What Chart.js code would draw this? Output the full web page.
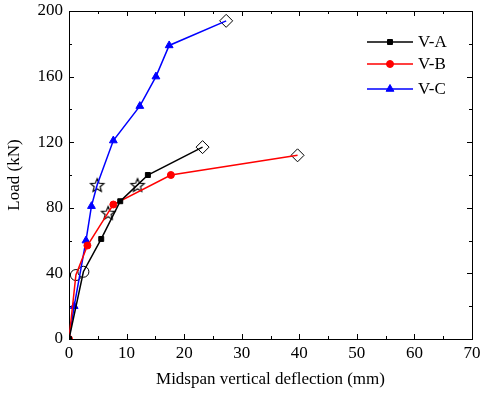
<!DOCTYPE html>
<html><head><meta charset="utf-8">
<script src="https://cdn.jsdelivr.net/npm/chart.js@4"></script>
<style>html,body{margin:0;padding:0;background:#fff}</style>
</head><body>
<canvas id="c" width="482" height="394"></canvas>
<script>
// ---- data ----
const seriesNames = ['V-A', 'V-B', 'V-C'];
const deflA = [0, 2.5, 5.6, 8.9, 11.9, 13.7, 23.2];
const loadA = [0, 41, 61, 84, 94, 100, 117];
const deflB = [0, 1.2, 3.2, 6.8, 7.7, 17.7, 39.7];
const loadB = [0, 39, 57, 77, 82, 100, 112];
const deflC = [0, 0.9, 2.95, 3.9, 4.9, 7.7, 12.3, 15.1, 17.4, 27.3];
const loadC = [0, 20, 60, 81, 94, 121, 142, 160, 179, 194];
// special points (open markers)
const circleDefl = [1.2, 2.5];
const circleLoad = [39, 41];
const starDefl = [4.9, 6.8, 11.9];
const starLoad = [94, 77, 94];
const diamondDefl = [27.3, 23.2, 39.7];
const diamondLoad = [194, 117, 112];
const xTicks = [0, 10, 20, 30, 40, 50, 60, 70];
const yTicks = [0, 40, 80, 120, 160, 200];

const FONT = 'Liberation Serif';
const pts = (xs, ys) => xs.map((x, i) => ({x, y: ys[i]}));
const specialKeys = new Set([
  ...pts(circleDefl, circleLoad), ...pts(starDefl, starLoad), ...pts(diamondDefl, diamondLoad)
].map(p => p.x + ',' + p.y));

// star image
function makeStar(r) {
  const s = Math.ceil(r * 2 + 4), cv = document.createElement('canvas');
  cv.width = s; cv.height = s;
  const g = cv.getContext('2d');
  g.beginPath();
  for (let i = 0; i < 10; i++) {
    const rr = i % 2 === 0 ? r : r * 0.45;
    const a = -Math.PI / 2 + i * Math.PI / 5;
    const px = s / 2 + rr * Math.cos(a), py = s / 2 + 0.8 + rr * Math.sin(a);
    i ? g.lineTo(px, py) : g.moveTo(px, py);
  }
  g.closePath();
  g.fillStyle = '#fff'; g.fill();
  g.lineWidth = 1.2; g.strokeStyle = '#000'; g.stroke();
  return cv;
}
const starImg = makeStar(7);

function mainDs(label, xs, ys, color, style, radius) {
  return {
    label, data: pts(xs, ys), borderColor: color, backgroundColor: color,
    borderWidth: 1.5, pointStyle: style,
    pointRadius: c => specialKeys.has(c.raw.x + ',' + c.raw.y) ? 0 : radius,
    pointBorderWidth: 1, tension: 0, showLine: true, isMain: true
  };
}
function markDs(xs, ys, style, radius) {
  return {
    label: '_m', data: pts(xs, ys), showLine: false, pointStyle: style,
    pointRadius: radius, pointBackgroundColor: '#fff', pointBorderColor: '#000',
    pointBorderWidth: 1, borderColor: '#000', backgroundColor: '#fff', clip: false
  };
}

const datasets = [
  mainDs(seriesNames[0], deflA, loadA, '#000000', 'rect', 3.5),
  mainDs(seriesNames[1], deflB, loadB, '#ff0000', 'circle', 3.5),
  mainDs(seriesNames[2], deflC, loadC, '#0000ff', 'triangle', 4.5),
  markDs(circleDefl, circleLoad, 'circle', 5.5),
  markDs(starDefl, starLoad, starImg, 7),
  markDs(diamondDefl, diamondLoad, 'rectRot', 6.5)
];

const decor = {
  id: 'decor',
  beforeDatasetsDraw(chart) {
    const {ctx, chartArea: a, scales: {x, y}} = chart;
    ctx.save();
    ctx.strokeStyle = '#000'; ctx.lineWidth = 1;
    ctx.strokeRect(Math.round(a.left) + 0.5, Math.round(a.top) + 0.5,
      Math.round(a.right - a.left), Math.round(a.bottom - a.top));
    ctx.beginPath();
    for (let v = 0; v <= 70; v += 5) {
      const px = Math.round(x.getPixelForValue(v)) + 0.5;
      const L = v % 10 === 0 ? 5 : 3;
      ctx.moveTo(px, a.bottom); ctx.lineTo(px, a.bottom - L);
      ctx.moveTo(px, a.top); ctx.lineTo(px, a.top + L);
    }
    for (let v = 0; v <= 200; v += 20) {
      const py = Math.round(y.getPixelForValue(v)) + 0.5;
      const L = v % 40 === 0 ? 5 : 3;
      ctx.moveTo(a.left, py); ctx.lineTo(a.left + L, py);
      ctx.moveTo(a.right, py); ctx.lineTo(a.right - L, py);
    }
    ctx.stroke();
    ctx.restore();
  },
  afterDraw(chart) {
    const {ctx} = chart;
    const rows = [42, 64, 89];
    ctx.save();
    chart.data.datasets.filter(d => d.isMain).forEach((d, i) => {
      const yy = rows[i];
      ctx.strokeStyle = d.borderColor; ctx.lineWidth = 1.5;
      ctx.beginPath(); ctx.moveTo(367, yy); ctx.lineTo(413, yy); ctx.stroke();
      ctx.fillStyle = d.borderColor; ctx.strokeStyle = d.borderColor; ctx.lineWidth = 1;
      Chart.helpers.drawPoint(ctx, {pointStyle: d.pointStyle, radius: d.pointStyle === 'triangle' ? 4.5 : 3.5, rotation: 0, borderWidth: 1}, 390, yy);
      ctx.fillStyle = '#000';
      ctx.font = '17px "' + FONT + '"';
      ctx.textBaseline = 'middle'; ctx.textAlign = 'left';
      ctx.fillText(d.label, 418, yy + 1);
    });
    ctx.restore();
  }
};

new Chart(document.getElementById('c'), {
  type: 'scatter',
  data: {datasets},
  plugins: [decor],
  options: {
    responsive: false, animation: false,
    layout: {padding: {top: 11, right: 10, left: 0, bottom: 0}},
    plugins: {legend: {display: false}, tooltip: {enabled: false}},
    scales: {
      x: {
        type: 'linear', min: 0, max: 70,
        afterBuildTicks: s => { s.ticks = xTicks.map(v => ({value: v})); },
        afterFit: s => { s.height = 55; s.paddingLeft = 0; s.paddingRight = 0; },
        grid: {display: false, drawTicks: false},
        border: {display: false},
        ticks: {color: '#000', font: {family: FONT, size: 17}, padding: 4, maxRotation: 0},
        title: {display: true, text: 'Midspan vertical deflection (mm)', color: '#000', font: {family: FONT, size: 17}, padding: {top: 2}}
      },
      y: {
        type: 'linear', min: 0, max: 200,
        afterBuildTicks: s => { s.ticks = yTicks.map(v => ({value: v})); },
        afterFit: s => { s.width = 69; s.paddingTop = 0; s.paddingBottom = 0; },
        grid: {display: false, drawTicks: false},
        border: {display: false},
        ticks: {color: '#000', font: {family: FONT, size: 17}, padding: 6},
        title: {display: true, text: 'Load (kN)', color: '#000', font: {family: FONT, size: 17}, padding: {bottom: 0}}
      }
    }
  }
});
</script>
</body></html>
